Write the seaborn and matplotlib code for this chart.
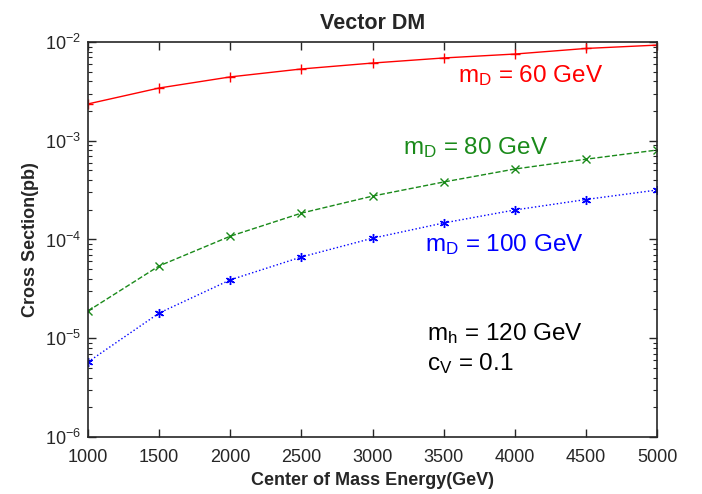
import pandas as pd
import seaborn as sns
import matplotlib.pyplot as plt
from matplotlib.ticker import LogLocator, FixedLocator

# Data
energy = [1000, 1500, 2000, 2500, 3000, 3500, 4000, 4500, 5000]
xs_md60 = [2.36e-3, 3.42e-3, 4.43e-3, 5.33e-3, 6.12e-3, 6.89e-3, 7.55e-3, 8.6e-3, 9.3e-3]
xs_md80 = [1.89e-5, 5.4e-5, 1.08e-4, 1.85e-4, 2.75e-4, 3.82e-4, 5.17e-4, 6.5e-4, 8.05e-4]
xs_md100 = [5.75e-6, 1.8e-5, 3.9e-5, 6.65e-5, 1.03e-4, 1.47e-4, 1.99e-4, 2.54e-4, 3.17e-4]

sns.set_style("ticks")
plt.rcParams["font.family"] = ["Liberation Sans", "DejaVu Sans"]
plt.rcParams["mathtext.fontset"] = "custom"
plt.rcParams["mathtext.rm"] = "Liberation Sans"
plt.rcParams["mathtext.it"] = "Liberation Sans"
plt.rcParams["mathtext.bf"] = "Liberation Sans:bold"

fig = plt.figure(figsize=(7.02, 4.94), dpi=100)
ax = fig.add_axes([0.1254, 0.1154, 0.8105, 0.7996])

series = [
    (xs_md60, "#ff0000", "-", "+", 7),
    (xs_md80, "#1a8a1a", "--", "x", 5.5),
    (xs_md100, "#0000ff", ":", (6, 2, 0), 6.5),
]
for vals, col, ls, mk, ms in series:
    df = pd.DataFrame({"energy": energy, "xs": vals})
    sns.lineplot(data=df, x="energy", y="xs", ax=ax, color=col, linestyle=ls,
                 marker=mk, markersize=ms, markeredgecolor=col, markeredgewidth=1.0,
                 linewidth=1.0)

ax.set_yscale("log")
ax.set_xlim(1000, 5000)
ax.set_ylim(1e-6, 1e-2)
ax.xaxis.set_major_locator(FixedLocator(energy))
ax.yaxis.set_major_locator(LogLocator(base=10, numticks=10))
ax.yaxis.set_minor_locator(LogLocator(base=10, subs=range(2, 10), numticks=20))
ax.tick_params(which="both", direction="in", top=True, right=True, labelsize=13)
ax.tick_params(axis="x", pad=9)
ax.tick_params(axis="y", pad=5)
ax.tick_params(which="major", length=6, width=1)
ax.tick_params(which="minor", length=3, width=0.8)
for sp in ax.spines.values():
    sp.set_linewidth(1.2)

ax.set_title("Vector DM", fontsize=15.5, fontweight="bold", pad=9)
ax.set_xlabel("Center of Mass Energy(GeV)", fontsize=13, fontweight="bold", labelpad=4)
ax.set_ylabel("Cross Section(pb)", fontsize=13, fontweight="bold", labelpad=4)

tk = dict(transform=ax.transAxes, fontsize=17.5, ha="left", va="center")
ax.text(0.65, 0.914, r"m$_\mathrm{D}$ = 60 GeV", color="#ff0000", **tk)
ax.text(0.554, 0.734, r"m$_\mathrm{D}$ = 80 GeV", color="#1a8a1a", **tk)
ax.text(0.592, 0.486, r"m$_\mathrm{D}$ = 100 GeV", color="#0000ff", **tk)
ax.text(0.596, 0.263, r"m$_\mathrm{h}$ = 120 GeV", color="black", **tk)
ax.text(0.596, 0.187, r"c$_\mathrm{V}$ = 0.1", color="black", **tk)

fig.savefig("out.png", dpi=100)
